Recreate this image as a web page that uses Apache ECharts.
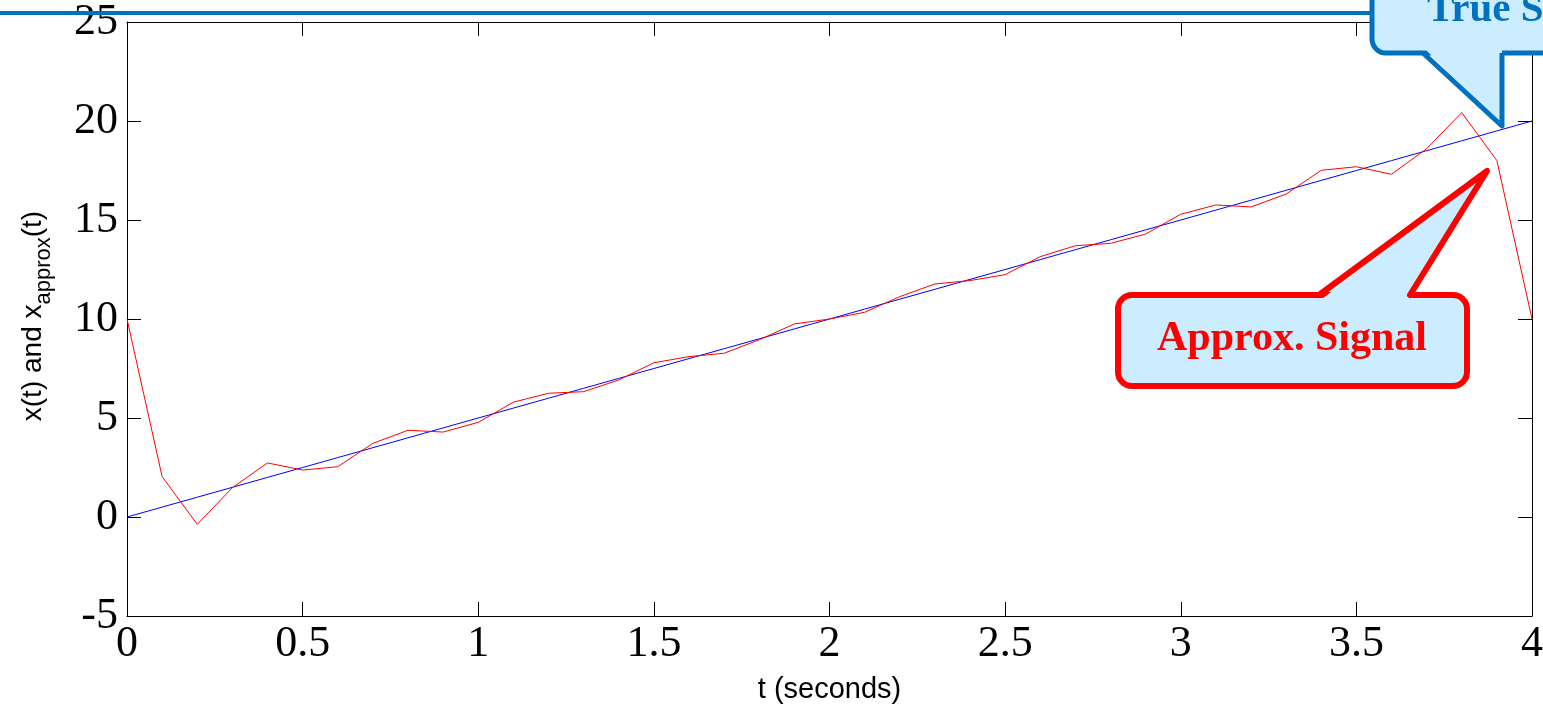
<!DOCTYPE html>
<html>
<head>
<meta charset="utf-8">
<script src="https://cdn.jsdelivr.net/npm/echarts@6/dist/echarts.min.js"></script>
<style>
html,body{margin:0;padding:0;background:#fff;}
#chart{width:1543px;height:708px;}
</style>
</head>
<body>
<div id="chart"></div>
<script>
// ---- data ----
const tValues = [0,0.1,0.2,0.3,0.4,0.5,0.6,0.7,0.8,0.9,1.0,1.1,1.2,1.3,1.4,1.5,1.6,1.7,1.8,1.9,2.0,
  2.1,2.2,2.3,2.4,2.5,2.6,2.7,2.8,2.9,3.0,3.1,3.2,3.3,3.4,3.5,3.6,3.7,3.8,3.9,4.0];
const trueSignal = [0,0.5,1,1.5,2,2.5,3,3.5,4,4.5,5,5.5,6,6.5,7,7.5,8,8.5,9,9.5,10,
  10.5,11,11.5,12,12.5,13,13.5,14,14.5,15,15.5,16,16.5,17,17.5,18,18.5,19,19.5,20];
const approxSignal = [10.0,2.04,-0.37,1.48,2.73,2.37,2.54,3.72,4.38,4.29,4.78,5.80,6.25,6.33,6.92,7.79,8.10,8.27,8.95,9.75,10.0,
  10.34,11.13,11.77,11.94,12.24,13.15,13.70,13.82,14.29,15.29,15.76,15.66,16.31,17.51,17.69,17.31,18.6,20.42,18.0,10.0];
const xTicks = {min: 0, max: 4, interval: 0.5};
const yTicks = {min: -5, max: 25, interval: 5};
const xLabel = 't (seconds)';
const yLabelMain = 'x(t) and x';
const yLabelSub = 'approx';
const yLabelEnd = '(t)';
const trueLabel = 'True Signal';
const approxLabel = 'Approx. Signal';

const truePairs = tValues.map((t, i) => [t, trueSignal[i]]);
const approxPairs = tValues.map((t, i) => [t, approxSignal[i]]);

const chart = echarts.init(document.getElementById('chart'), null, {renderer: 'canvas'});

const serif = 'Liberation Serif';
const sans = 'Liberation Sans';
const axisLine = {show: true, onZero: false, lineStyle: {color: '#000', width: 1}};
const tick = {show: true, inside: true, length: 14, lineStyle: {color: '#000', width: 1}};

const blueC = '#0070C0';
const fillC = '#CCECFF';

// measure text widths for the y-axis label pieces
const ctx = document.createElement('canvas').getContext('2d');
function tw(s, font) { ctx.font = font; return ctx.measureText(s).width; }
const fMain = '28px "Liberation Sans"';
const fSub = '22px "Liberation Sans"';
const w1 = tw(yLabelMain, fMain), w2 = tw(yLabelSub, fSub), w3 = tw(yLabelEnd, fMain);
const totalW = w1 + w2 + w3;
const yCenter = 316;

chart.setOption({
  animation: false,
  backgroundColor: '#fff',
  grid: {left: 127, right: 11, top: 22, bottom: 92, containLabel: false, outerBoundsMode: 'none'},
  xAxis: [
    {type: 'value', position: 'bottom', min: xTicks.min, max: xTicks.max, interval: xTicks.interval,
     axisLine: axisLine, axisTick: tick, splitLine: {show: false},
     axisLabel: {fontFamily: serif, fontSize: 44, color: '#000', margin: 6, showMinLabel: true, showMaxLabel: true},
     name: xLabel, nameLocation: 'middle', nameGap: 59,
     nameTextStyle: {fontFamily: sans, fontSize: 29, color: '#000'}},
    {type: 'value', position: 'top', min: xTicks.min, max: xTicks.max, interval: xTicks.interval,
     axisLine: axisLine, axisTick: tick, splitLine: {show: false}, axisLabel: {show: false}}
  ],
  yAxis: [
    {type: 'value', position: 'left', min: yTicks.min, max: yTicks.max, interval: yTicks.interval,
     axisLine: axisLine, axisTick: tick, splitLine: {show: false},
     axisLabel: {fontFamily: serif, fontSize: 44, color: '#000', margin: 9}},
    {type: 'value', position: 'right', min: yTicks.min, max: yTicks.max, interval: yTicks.interval,
     axisLine: axisLine, axisTick: tick, splitLine: {show: false}, axisLabel: {show: false}}
  ],
  series: [
    {type: 'line', name: 'x(t)', data: truePairs, showSymbol: false, symbol: 'none',
     lineStyle: {color: '#0000FF', width: 1}, z: 2},
    {type: 'line', name: 'xapprox(t)', data: approxPairs, showSymbol: false, symbol: 'none',
     lineStyle: {color: '#FF0000', width: 1}, z: 3}
  ],
  graphic: [
    // y-axis label with subscript (rotated)
    {type: 'group', x: 47, y: yCenter + totalW / 2, rotation: Math.PI / 2, children: [
      {type: 'text', x: 0, y: 0, style: {text: yLabelMain, font: fMain, fill: '#000', align: 'left', verticalAlign: 'bottom'}},
      {type: 'text', x: w1, y: 8, style: {text: yLabelSub, font: fSub, fill: '#000', align: 'left', verticalAlign: 'bottom'}},
      {type: 'text', x: w1 + w2, y: 0, style: {text: yLabelEnd, font: fMain, fill: '#000', align: 'left', verticalAlign: 'bottom'}}
    ]},
    // blue title rule
    {type: 'line', z: 100, shape: {x1: 0, y1: 13, x2: 1374, y2: 13}, style: {stroke: blueC, lineWidth: 4}},
    // True signal callout
    {type: 'rect', z: 101, shape: {x: 1372, y: -80, width: 400, height: 133, r: 14},
     style: {fill: fillC, stroke: blueC, lineWidth: 5}},
    {type: 'polygon', z: 102, shape: {points: [[1425, 49], [1502, 126], [1502, 49]]},
     style: {fill: fillC, stroke: null}},
    {type: 'polyline', z: 103, shape: {points: [[1423, 53], [1502, 126], [1502, 53]]},
     style: {fill: null, stroke: blueC, lineWidth: 5, lineJoin: 'round'}},
    {type: 'text', z: 104, x: 1427, y: 31,
     style: {text: trueLabel, font: 'bold 41px "Liberation Serif"', fill: blueC, align: 'left', verticalAlign: 'bottom'}},
    // Approx signal callout
    {type: 'rect', z: 101, shape: {x: 1118, y: 295, width: 349, height: 91, r: 14},
     style: {fill: fillC, stroke: '#FF0000', lineWidth: 6}},
    {type: 'polygon', z: 102, shape: {points: [[1322, 299], [1487, 171], [1408, 299]]},
     style: {fill: fillC, stroke: null}},
    {type: 'polyline', z: 103, shape: {points: [[1319, 295], [1487, 171], [1410, 295]]},
     style: {fill: null, stroke: '#FF0000', lineWidth: 6, lineJoin: 'round', lineCap: 'round'}},
    {type: 'text', z: 104, x: 1292, y: 339,
     style: {text: approxLabel, font: 'bold 42px "Liberation Serif"', fill: '#FF0000', align: 'center', verticalAlign: 'middle'}}
  ]
});
</script>
</body>
</html>
